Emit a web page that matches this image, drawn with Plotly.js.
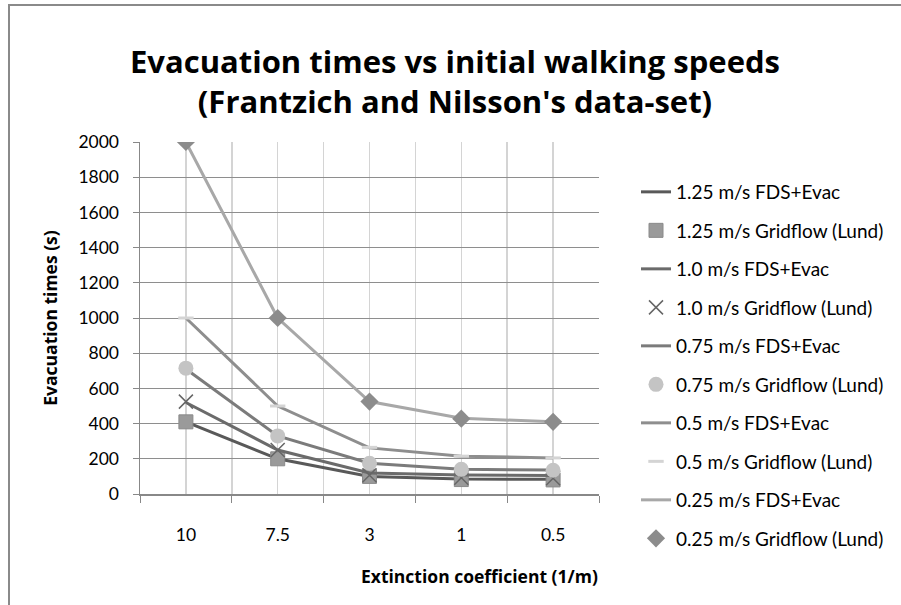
<!DOCTYPE html>
<html>
<head>
<meta charset="utf-8">
<script src="https://cdn.plot.ly/plotly-3.0.1.min.js"></script>
<style>
  html, body { margin: 0; padding: 0; background: #ffffff; }
  #wrap { position: relative; width: 901px; height: 605px; overflow: hidden; }
  #frame { position: absolute; left: 8px; top: 4px; width: 900px; height: 610px;
           border: 2px solid #8a8a8a; box-sizing: border-box; pointer-events: none; }
  #chart { position: absolute; left: 0; top: 0; width: 901px; height: 605px; }
</style>
</head>
<body>
<div id="wrap">
  <div id="chart"></div>
  <div id="frame"></div>
</div>
<script>
// Extinction coefficient categories (1/m)
const categories = ["10", "7.5", "3", "1", "0.5"];

// Evacuation times (s)
const fds125  = [410, 200, 100, 85, 84];
const grid125 = [410, 200, 100, 82, 80];
const fds100  = [520, 250, 120, 108, 105];
const grid100 = [525, 250, 106, 92, 90];
const fds075  = [710, 330, 175, 140, 136];
const grid075 = [715, 330, 175, 140, 135];
const fds050  = [1000, 500, 262, 215, 205];
const grid050 = [1000, 500, 265, 215, 205];
const fds025  = [2000, 1000, 525, 430, 410];
const grid025 = [2000, 1000, 525, 428, 410];

const seriesNames = [
  "1.25 m/s FDS+Evac", "1.25 m/s Gridflow (Lund)",
  "1.0 m/s FDS+Evac", "1.0 m/s Gridflow (Lund)",
  "0.75 m/s FDS+Evac", "0.75 m/s Gridflow (Lund)",
  "0.5 m/s FDS+Evac", "0.5 m/s Gridflow (Lund)",
  "0.25 m/s FDS+Evac", "0.25 m/s Gridflow (Lund)"
];

// category positions on a linear axis (index of each category)
const xPos = categories.map((c, i) => i);
const boundaries = [-0.5].concat(categories.map((c, i) => i + 0.5));

const FONT = "Lato, 'Open Sans', sans-serif";
const BOLD = "'Open Sans', Lato, sans-serif";

function lineTrace(name, y, color, group) {
  return { type: "scatter", mode: "lines", name: name, x: xPos, y: y,
           legendgroup: group, line: { color: color, width: 3 } };
}
function markerTrace(name, y, marker, group) {
  return { type: "scatter", mode: "markers", name: name, x: xPos, y: y,
           legendgroup: group, marker: marker };
}

const traces = [
  lineTrace(seriesNames[0], fds125, "#595959", "g0"),
  markerTrace(seriesNames[1], grid125, { symbol: "square", size: 14, color: "#9a9a9a",
    line: { color: "#8a8a8a", width: 1 } }, "g1"),
  lineTrace(seriesNames[2], fds100, "#6b6b6b", "g2"),
  markerTrace(seriesNames[3], grid100, { symbol: "x-thin", size: 14, color: "#666666",
    line: { color: "#666666", width: 1.5 } }, "g3"),
  lineTrace(seriesNames[4], fds075, "#7b7b7b", "g4"),
  markerTrace(seriesNames[5], grid075, { symbol: "circle", size: 15, color: "#c4c4c4",
    line: { width: 0 } }, "g5"),
  lineTrace(seriesNames[6], fds050, "#8e8e8e", "g6"),
  markerTrace(seriesNames[7], grid050, { symbol: "line-ew", size: 11, color: "#d4d4d4",
    line: { color: "#d4d4d4", width: 3 } }, "g7"),
  lineTrace(seriesNames[8], fds025, "#a8a8a8", "g8"),
  markerTrace(seriesNames[9], grid025, { symbol: "diamond", size: 14, color: "#8c8c8c",
    line: { width: 0 } }, "g9")
];

const layout = {
  width: 901, height: 605,
  paper_bgcolor: "#ffffff", plot_bgcolor: "#ffffff",
  margin: { l: 140, r: 302, t: 142, b: 111 },
  font: { family: FONT, color: "#000000", size: 19 },
  title: {
    text: "<b>Evacuation times vs initial walking speeds<br>(Frantzich and Nilsson's data-set)</b>",
    font: { family: BOLD, size: 31, color: "#000000" },
    x: 455 / 901, xanchor: "center", xref: "container",
    y: 1 - 73 / 605, yanchor: "middle", yref: "container"
  },
  xaxis: {
    range: [-0.5, categories.length - 0.5],
    tickmode: "array", tickvals: xPos, ticktext: categories,
    ticks: "", showgrid: true, gridcolor: "#d4d4d4", gridwidth: 1.5,
    minor: { tickmode: "array", tickvals: boundaries, showgrid: true,
             gridcolor: "#d4d4d4", gridwidth: 1.5,
             ticks: "outside", ticklen: 7, tickcolor: "#888888", tickwidth: 1 },
    showline: true, linecolor: "#888888", linewidth: 1.5,
    zeroline: false, ticklabelstandoff: 24,
    tickfont: { family: FONT, size: 17.5, color: "#000000" },
    fixedrange: true
  },
  yaxis: {
    range: [0, 2000], dtick: 200, tick0: 0,
    showgrid: true, gridcolor: "#8e8e8e", gridwidth: 1,
    ticks: "outside", ticklen: 6, tickcolor: "#888888",
    showline: true, linecolor: "#888888", linewidth: 1.5,
    zeroline: false, ticklabelstandoff: 10,
    tickfont: { family: FONT, size: 17.5, color: "#000000" },
    title: { text: "<b>Evacuation times (s)</b>", font: { family: BOLD, size: 17.5, color: "#000000" }, standoff: 16 },
    fixedrange: true
  },
  annotations: [{
    text: "<b>Extinction coefficient (1/m)</b>", showarrow: false,
    xref: "paper", yref: "paper",
    x: (479 - 140) / 459, y: (494 - 576) / 352,
    xanchor: "center", yanchor: "middle",
    font: { family: BOLD, size: 17.5, color: "#000000" }
  }],
  showlegend: true,
  legend: {
    x: (636 - 140) / 459, xanchor: "left",
    y: (494 - 173) / 352, yanchor: "top",
    font: { family: FONT, size: 19, color: "#000000" },
    tracegroupgap: 10.8, bgcolor: "rgba(0,0,0,0)", borderwidth: 0,
    maxheight: 560,
    itemclick: false, itemdoubleclick: false
  }
};

Plotly.newPlot("chart", traces, layout, { displayModeBar: false, staticPlot: true });
</script>
</body>
</html>
